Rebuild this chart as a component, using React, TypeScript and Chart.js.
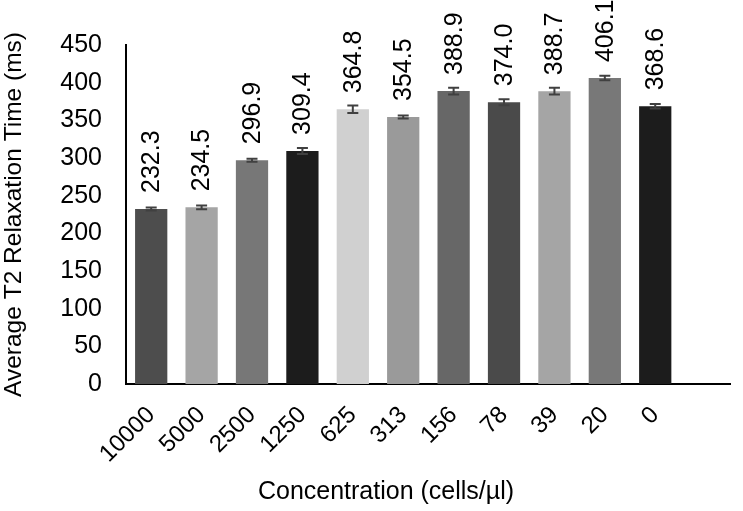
import React, { useEffect, useRef } from "react";
import { Chart, registerables } from "chart.js";

Chart.register(...registerables);

const categories = ["10000", "5000", "2500", "1250", "625", "313", "156", "78", "39", "20", "0"];
const meanT2 = [232.3, 234.5, 296.9, 309.4, 364.8, 354.5, 388.9, 374.0, 388.7, 406.1, 368.6];
const errT2 = [2, 2.5, 2, 4, 5, 2, 4.5, 4, 4.5, 3, 3];
const barColors = [
  "#4d4d4d", "#a5a5a5", "#777777", "#1c1c1c", "#d0d0d0", "#9a9a9a",
  "#676767", "#4a4a4a", "#a5a5a5", "#787878", "#1c1c1c",
];
const yMin = 0;
const yMax = 450;
const yStep = 50;
const xTitle = "Concentration (cells/µl)";
const yTitle = "Average T2 Relaxation Time (ms)";

const FONT = "'Liberation Sans', Arial, Helvetica, sans-serif";

const overlayPlugin = {
  id: "errAndLabels",
  afterDatasetsDraw(chart: any) {
    const ctx = chart.ctx;
    const meta = chart.getDatasetMeta(0);
    const yScale = chart.scales.y;
    ctx.save();
    meta.data.forEach((bar: any, i: number) => {
      if (i >= meanT2.length) return;
      const v = meanT2[i];
      const e = errT2[i];
      const x = bar.x;
      const yTop = yScale.getPixelForValue(v + e);
      const yBot = yScale.getPixelForValue(v - e);
      ctx.strokeStyle = "#404040";
      ctx.lineWidth = 2;
      ctx.beginPath();
      ctx.moveTo(x, yTop);
      ctx.lineTo(x, yBot);
      ctx.moveTo(x - 5.5, yTop);
      ctx.lineTo(x + 5.5, yTop);
      ctx.moveTo(x - 5.5, yBot);
      ctx.lineTo(x + 5.5, yBot);
      ctx.stroke();

      const yLab = yScale.getPixelForValue(v) - 16;
      ctx.save();
      ctx.translate(x, yLab);
      ctx.rotate(-Math.PI / 2);
      ctx.fillStyle = "#000";
      ctx.font = `25px ${FONT}`;
      ctx.textAlign = "left";
      ctx.textBaseline = "middle";
      ctx.fillText(v.toFixed(1), 0, 1);
      ctx.restore();
    });
    // x-axis title, placed as in the reference (left of the plot-area centre)
    ctx.fillStyle = "#000";
    ctx.font = `25px ${FONT}`;
    ctx.textAlign = "center";
    ctx.textBaseline = "middle";
    ctx.fillText(xTitle, 386, 492);
    ctx.restore();
  },
};

export default function App() {
  const ref = useRef<HTMLCanvasElement | null>(null);

  useEffect(() => {
    document.body.style.margin = "0";
    if (!ref.current) return;
    const labels = [...categories, ""];
    const data = [...meanT2, null];
    const chart = new Chart(ref.current, {
      type: "bar",
      data: {
        labels,
        datasets: [
          {
            data: data as any,
            backgroundColor: [...barColors, "#fff"],
            borderWidth: 0,
            categoryPercentage: 1,
            barPercentage: 0.64,
          },
        ],
      },
      options: {
        animation: false,
        responsive: true,
        maintainAspectRatio: false,
        layout: { padding: { top: 45, left: 0, right: 0, bottom: 0 } },
        plugins: {
          legend: { display: false },
          tooltip: { enabled: false },
        },
        scales: {
          x: {
            grid: { display: false, drawTicks: false },
            border: { display: true, color: "#000", width: 2 },
            ticks: {
              autoSkip: false,
              maxRotation: 45,
              minRotation: 45,
              color: "#000",
              padding: 17,
              font: { family: FONT, size: 24 },
            },
            title: { display: false, text: xTitle },
            afterFit(s: any) {
              s.height = 127;
            },
          },
          y: {
            min: yMin,
            max: yMax,
            grid: { display: false, drawTicks: false },
            border: { display: true, color: "#000", width: 2 },
            ticks: {
              stepSize: yStep,
              color: "#000",
              padding: 24,
              font: { family: FONT, size: 25 },
            },
            title: {
              display: true,
              text: yTitle,
              color: "#000",
              font: { family: FONT, size: 24.5 },
              padding: { top: 0, bottom: 0 },
            },
            afterFit(s: any) {
              s.width = 126;
            },
          },
        },
      },
      plugins: [overlayPlugin],
    });
    return () => chart.destroy();
  }, []);

  return (
    <div style={{ position: "absolute", left: 0, top: 0, width: 743, height: 511 }}>
      <canvas ref={ref} />
    </div>
  );
}
